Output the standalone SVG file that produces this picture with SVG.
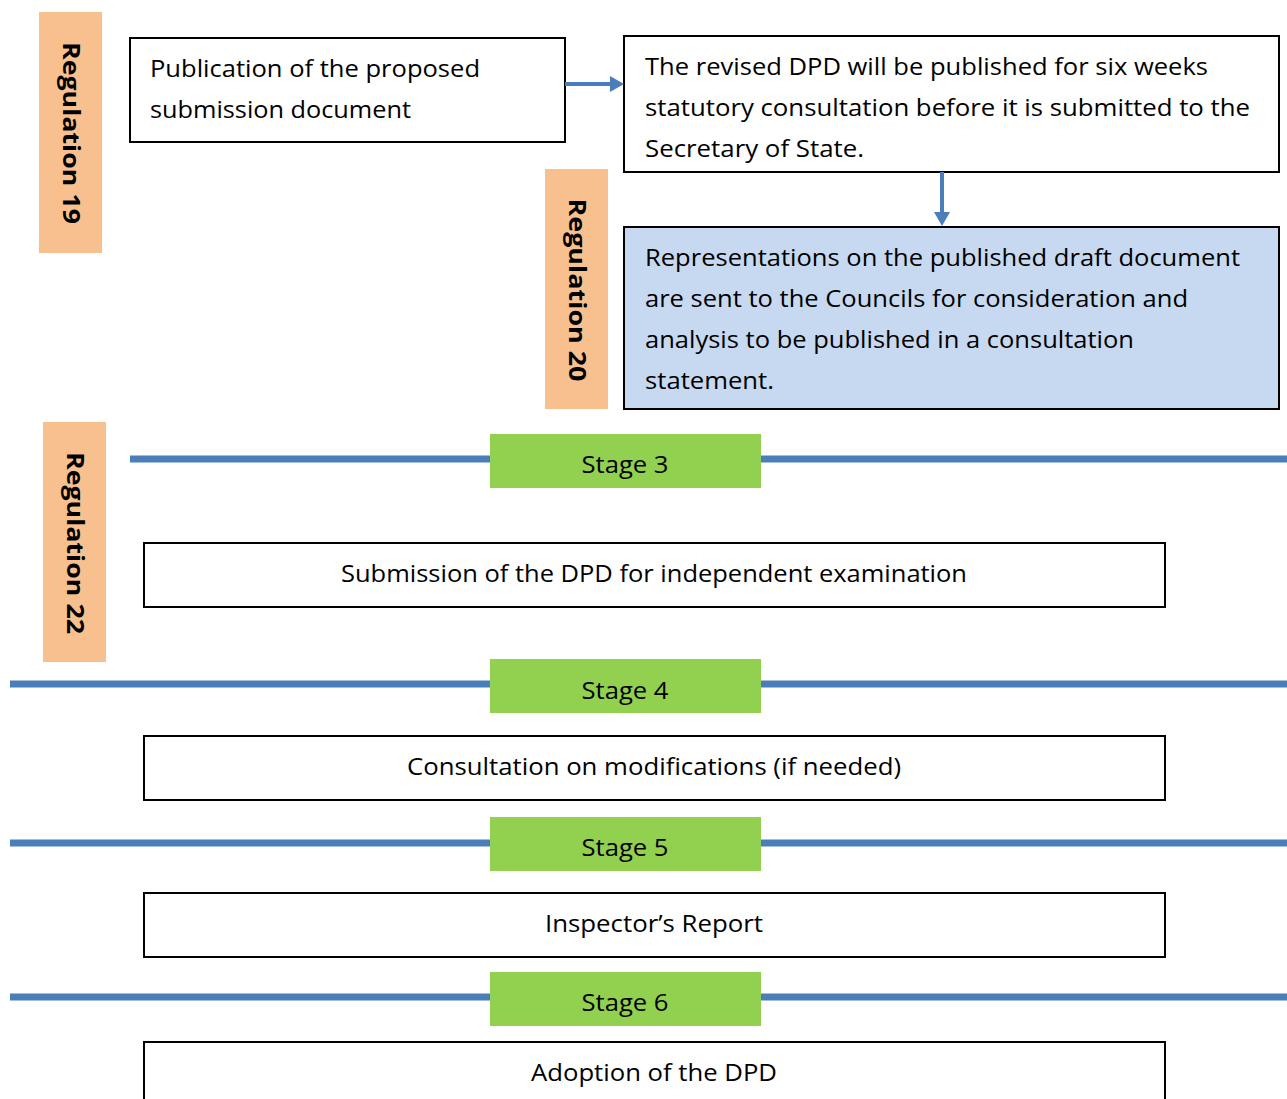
<svg xmlns="http://www.w3.org/2000/svg" width="1287" height="1099" viewBox="0 0 1287 1099">
<style>
  .box { fill: #ffffff; stroke: #000000; stroke-width: 2; }
  .blue { fill: #C6D9F1; stroke: #000000; stroke-width: 2; }
  .reg { fill: #F9C08F; }
  .stage { fill: #92D050; }
  .line { stroke: #4A7EBB; stroke-width: 7; fill: none; }
  .conn { stroke: #4A7EBB; stroke-width: 4; fill: none; }
  .t { font-family: "Open Sans", "Noto Sans", "Liberation Sans", sans-serif; font-size: 24px; fill: #000000; }
  .c { text-anchor: middle; }
  .rt { font-family: "Open Sans", "Noto Sans", "Liberation Sans", sans-serif; font-size: 24px; font-weight: bold; fill: #000000; text-anchor: middle; }
</style>
<defs>
  <marker id="ah" markerWidth="4" markerHeight="4" refX="0" refY="2" orient="auto" markerUnits="strokeWidth">
    <path d="M0,0 L3.5,2 L0,4 Z" fill="#4A7EBB"/>
  </marker>
</defs>
<rect width="1287" height="1099" fill="#ffffff"/>

<g id="stage-lines">
  <line class="line" x1="130" y1="459" x2="1287" y2="459"/>
  <line class="line" x1="10" y1="684" x2="1287" y2="684"/>
  <line class="line" x1="10" y1="843" x2="1287" y2="843"/>
  <line class="line" x1="10" y1="997" x2="1287" y2="997"/>
</g>

<g id="reg19">
  <rect class="reg" x="39" y="12" width="63" height="241"/>
  <text class="rt" transform="translate(63,133) rotate(90)" textLength="182" lengthAdjust="spacingAndGlyphs">Regulation 19</text>
</g>

<g id="reg20">
  <rect class="reg" x="545" y="169" width="63" height="240"/>
  <text class="rt" transform="translate(569,290) rotate(90)" textLength="183" lengthAdjust="spacingAndGlyphs">Regulation 20</text>
</g>

<g id="reg22">
  <rect class="reg" x="43" y="422" width="63" height="240"/>
  <text class="rt" transform="translate(67,543) rotate(90)" textLength="182" lengthAdjust="spacingAndGlyphs">Regulation 22</text>
</g>

<g id="publication">
  <rect class="box" x="130" y="38" width="435" height="104"/>
  <text class="t" x="150" y="77" textLength="330" lengthAdjust="spacingAndGlyphs">Publication of the proposed</text>
  <text class="t" x="150" y="118" textLength="261" lengthAdjust="spacingAndGlyphs">submission document</text>
</g>

<g id="revised">
  <rect class="box" x="624" y="36" width="655" height="136"/>
  <text class="t" x="645" y="75" textLength="563" lengthAdjust="spacingAndGlyphs">The revised DPD will be published for six weeks</text>
  <text class="t" x="645" y="116" textLength="605" lengthAdjust="spacingAndGlyphs">statutory consultation before it is submitted to the</text>
  <text class="t" x="645" y="157" textLength="219" lengthAdjust="spacingAndGlyphs">Secretary of State.</text>
</g>

<g id="representations">
  <rect class="blue" x="624" y="227" width="655" height="182"/>
  <text class="t" x="645" y="266" textLength="595" lengthAdjust="spacingAndGlyphs">Representations on the published draft document</text>
  <text class="t" x="645" y="307" textLength="543" lengthAdjust="spacingAndGlyphs">are sent to the Councils for consideration and</text>
  <text class="t" x="645" y="348" textLength="489" lengthAdjust="spacingAndGlyphs">analysis to be published in a consultation</text>
  <text class="t" x="645" y="389" textLength="129" lengthAdjust="spacingAndGlyphs">statement.</text>
</g>

<g id="connectors">
  <line class="conn" x1="565" y1="84" x2="610" y2="84" marker-end="url(#ah)"/>
  <line class="conn" x1="942" y1="172" x2="942" y2="212" marker-end="url(#ah)"/>
</g>

<g id="stage3">
  <rect class="stage" x="490" y="434" width="271" height="54"/>
  <text class="t c" x="625" y="473" textLength="87" lengthAdjust="spacingAndGlyphs">Stage 3</text>
</g>

<g id="submission">
  <rect class="box" x="144" y="543" width="1021" height="64"/>
  <text class="t c" x="654" y="582" textLength="626" lengthAdjust="spacingAndGlyphs">Submission of the DPD for independent examination</text>
</g>

<g id="stage4">
  <rect class="stage" x="490" y="659" width="271" height="54"/>
  <text class="t c" x="625" y="699" textLength="87" lengthAdjust="spacingAndGlyphs">Stage 4</text>
</g>

<g id="consultation">
  <rect class="box" x="144" y="736" width="1021" height="64"/>
  <text class="t c" x="654" y="775" textLength="494" lengthAdjust="spacingAndGlyphs">Consultation on modifications (if needed)</text>
</g>

<g id="stage5">
  <rect class="stage" x="490" y="817" width="271" height="54"/>
  <text class="t c" x="625" y="856" textLength="87" lengthAdjust="spacingAndGlyphs">Stage 5</text>
</g>

<g id="inspector">
  <rect class="box" x="144" y="893" width="1021" height="64"/>
  <text class="t c" x="654" y="932" textLength="218" lengthAdjust="spacingAndGlyphs">Inspector’s Report</text>
</g>

<g id="stage6">
  <rect class="stage" x="490" y="972" width="271" height="54"/>
  <text class="t c" x="625" y="1011" textLength="87" lengthAdjust="spacingAndGlyphs">Stage 6</text>
</g>

<g id="adoption">
  <rect class="box" x="144" y="1042" width="1021" height="80"/>
  <text class="t c" x="654" y="1081" textLength="246" lengthAdjust="spacingAndGlyphs">Adoption of the DPD</text>
</g>
</svg>
